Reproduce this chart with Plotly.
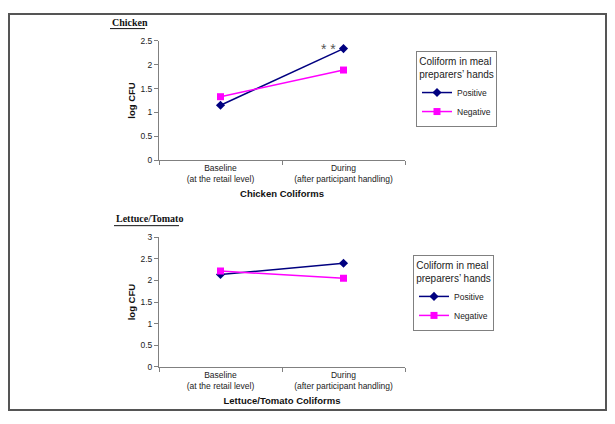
import plotly.graph_objects as go

# data
CATEGORIES = ['Baseline<br>(at the retail level)', 'During<br>(after participant handling)']
SERIES_NAMES = ['Positive', 'Negative']
CHICKEN_POSITIVE = [1.15, 2.34]
CHICKEN_NEGATIVE = [1.33, 1.89]
LETTUCE_POSITIVE = [2.14, 2.40]
LETTUCE_NEGATIVE = [2.22, 2.05]
LEGEND_TITLE = 'Coliform in meal<br>preparers\u2019 hands'

# the page body adds an 8px margin on every side, so the figure is made
# smaller to fit the window and reference pixel positions are shifted
OFF = 8
W, H = 615 - 2 * OFF, 424 - 2 * OFF
FONT = 'Liberation Sans, Arial, sans-serif'
SERIF = 'Liberation Serif, Times New Roman, serif'
POS_COLOR = '#000080'
NEG_COLOR = '#FF00FF'


def px(x):
    return (x - OFF) / W


def py(y):
    return 1 - (y - OFF) / H


fig = go.Figure()

# top panel - chicken
fig.add_trace(go.Scatter(x=CATEGORIES, y=CHICKEN_POSITIVE, name=SERIES_NAMES[0],
                         mode='lines+markers', line=dict(color=POS_COLOR, width=1.5),
                         marker=dict(symbol='diamond', size=7, color=POS_COLOR),
                         xaxis='x', yaxis='y', legend='legend'))
fig.add_trace(go.Scatter(x=CATEGORIES, y=CHICKEN_NEGATIVE, name=SERIES_NAMES[1],
                         mode='lines+markers', line=dict(color=NEG_COLOR, width=1.5),
                         marker=dict(symbol='square', size=7, color=NEG_COLOR),
                         xaxis='x', yaxis='y', legend='legend'))

# bottom panel - lettuce/tomato
fig.add_trace(go.Scatter(x=CATEGORIES, y=LETTUCE_POSITIVE, name=SERIES_NAMES[0],
                         mode='lines+markers', line=dict(color=POS_COLOR, width=1.5),
                         marker=dict(symbol='diamond', size=7, color=POS_COLOR),
                         xaxis='x2', yaxis='y2', legend='legend2'))
fig.add_trace(go.Scatter(x=CATEGORIES, y=LETTUCE_NEGATIVE, name=SERIES_NAMES[1],
                         mode='lines+markers', line=dict(color=NEG_COLOR, width=1.5),
                         marker=dict(symbol='square', size=7, color=NEG_COLOR),
                         xaxis='x2', yaxis='y2', legend='legend2'))

xaxis_common = dict(
    type='category', range=[-0.5, 1.5], showgrid=False, zeroline=False,
    showline=True, linecolor='#808080', linewidth=1,
    ticks='outside', tickson='boundaries', ticklen=4, tickcolor='#808080',
    tickfont=dict(family=FONT, size=8.5, color='#222'), fixedrange=True,
)
yaxis_common = dict(
    showgrid=False, zeroline=False, showline=True, linecolor='#808080', linewidth=1,
    ticks='outside', ticklen=4, tickcolor='#808080',
    tickfont=dict(family=FONT, size=8.5, color='#222'),
)
title_font = dict(family=FONT, size=9.5, color='#111')

legend_common = dict(
    bordercolor='#808080', borderwidth=1, bgcolor='white',
    font=dict(family=FONT, size=8.5, color='#222'),
    title=dict(text=LEGEND_TITLE, font=dict(family=FONT, size=10, color='#222'),
               side='top center'),
    xanchor='left', yanchor='top', itemwidth=30, tracegroupgap=0,
)

fig.update_layout(
    width=W, height=H, margin=dict(l=0, r=0, t=0, b=0),
    paper_bgcolor='white', plot_bgcolor='white',
    xaxis=dict(xaxis_common, domain=[px(159), px(405)], anchor='y',
               title=dict(text='<b>Chicken Coliforms</b>', font=title_font, standoff=7)),
    yaxis=dict(yaxis_common, domain=[py(158.7), py(36.7)], anchor='x',
               range=[0, 2.5], dtick=0.5,
               title=dict(text='<b>log CFU</b>', font=title_font, standoff=3)),
    xaxis2=dict(xaxis_common, domain=[px(159), px(405)], anchor='y2',
                title=dict(text='<b>Lettuce/Tomato Coliforms</b>', font=title_font, standoff=7)),
    yaxis2=dict(yaxis_common, domain=[py(370.7), py(238)], anchor='x2',
                range=[0, 3], dtick=0.5,
                title=dict(text='<b>log CFU</b>', font=title_font, standoff=3)),
    legend=dict(legend_common, x=px(416), y=py(47)),
    legend2=dict(legend_common, x=px(413), y=py(256)),
    showlegend=True,
)

# significance marker
fig.add_annotation(x=CATEGORIES[1], y=2.36, xref='x', yref='y', text='* *',
                   showarrow=False, xanchor='right', xshift=-6, yshift=-1,
                   font=dict(family=FONT, size=14, color='#555'))

# panel titles (serif, bold, underlined)
fig.add_annotation(x=px(110), y=py(18), xref='paper', yref='paper', text='<b>Chicken</b>',
                   showarrow=False, xanchor='left', yanchor='middle',
                   font=dict(family=SERIF, size=10, color='#111'))
fig.add_shape(type='line', xref='paper', yref='paper', x0=px(110), x1=px(145),
              y0=py(24), y1=py(24), line=dict(color='#111', width=1))
fig.add_annotation(x=px(114), y=py(219), xref='paper', yref='paper', text='<b>Lettuce/Tomato</b>',
                   showarrow=False, xanchor='left', yanchor='middle',
                   font=dict(family=SERIF, size=10, color='#111'))
fig.add_shape(type='line', xref='paper', yref='paper', x0=px(114), x1=px(179),
              y0=py(226), y1=py(226), line=dict(color='#111', width=1))

# outer frame (as close to the page edge as the body margin allows)
fig.add_shape(type='rect', xref='paper', yref='paper', x0=px(9), x1=px(606),
              y0=py(415), y1=py(9), line=dict(color='#555', width=2))

fig.write_html('out.html')
